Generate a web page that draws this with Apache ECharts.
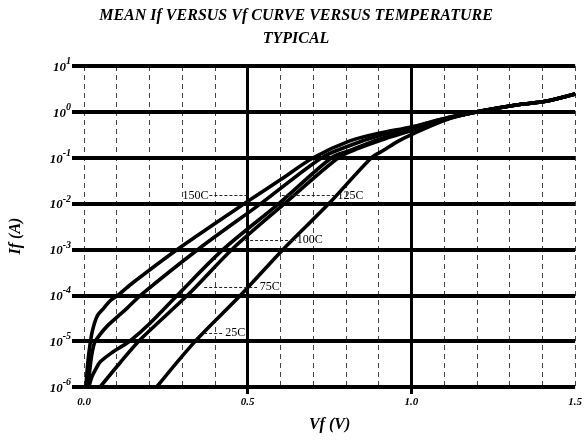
<!DOCTYPE html>
<html>
<head>
<meta charset="utf-8">
<script src="https://cdn.jsdelivr.net/npm/echarts@6/dist/echarts.min.js"></script>
<style>html,body{margin:0;padding:0;background:#fff}#c{width:585px;height:440px}</style>
</head>
<body>
<div id="c"></div>
<script>
// ---- data (Vf in volts, If in amperes) ----
const curveNames = ['150C', '125C', '100C', '75C', '25C'];

const vf150 = [0.006, 0.010, 0.016, 0.025, 0.040, 0.060, 0.080, 0.103, 0.150, 0.285, 0.490, 0.600, 0.700, 0.810, 0.900, 1.000, 1.100, 1.200, 1.320, 1.410, 1.500];
const if150 = [1.0e-6, 2.5e-6, 6.3e-6, 1.6e-5, 3.5e-5, 5.2e-5, 7.6e-5, 1.0e-4, 1.9e-4, 1.0e-3, 1.0e-2, 3.3e-2, 0.10, 0.23, 0.34, 0.47, 0.72, 1.0, 1.41, 1.7, 2.45];

const vf125 = [0.012, 0.018, 0.024, 0.033, 0.049, 0.070, 0.100, 0.131, 0.176, 0.352, 0.544, 0.726, 0.808, 0.900, 1.000, 1.100, 1.200, 1.320, 1.410, 1.500];
const if125 = [1.0e-6, 2.5e-6, 5.2e-6, 9.5e-6, 1.4e-5, 2.1e-5, 3.3e-5, 5.2e-5, 1.05e-4, 1.05e-3, 1.05e-2, 0.10, 0.18, 0.30, 0.45, 0.71, 1.0, 1.41, 1.7, 2.45];

const vf100 = [0.015, 0.024, 0.036, 0.049, 0.088, 0.118, 0.140, 0.200, 0.285, 0.425, 0.595, 0.756, 0.808, 0.900, 1.000, 1.100, 1.200, 1.320, 1.410, 1.500];
const if100 = [1.0e-6, 1.66e-6, 2.45e-6, 3.5e-6, 5.8e-6, 7.9e-6, 1.0e-5, 2.4e-5, 1.0e-4, 1.0e-3, 1.0e-2, 0.10, 0.14, 0.25, 0.41, 0.68, 1.0, 1.41, 1.7, 2.45];

const vf75 = [0.049, 0.109, 0.170, 0.319, 0.455, 0.616, 0.777, 0.838, 0.920, 1.000, 1.100, 1.200, 1.320, 1.410, 1.500];
const if75 = [1.0e-6, 3.3e-6, 1.05e-5, 1.05e-4, 1.05e-3, 1.05e-2, 0.10, 0.16, 0.26, 0.39, 0.68, 1.0, 1.41, 1.7, 2.45];

const vf25 = [0.222, 0.340, 0.478, 0.608, 0.748, 0.878, 0.915, 0.960, 1.000, 1.100, 1.200, 1.320, 1.410, 1.500];
const if25 = [1.0e-6, 1.0e-5, 1.0e-4, 1.0e-3, 1.0e-2, 0.10, 0.145, 0.23, 0.32, 0.65, 1.0, 1.41, 1.7, 2.45];

// curve annotations (label text, current level, leader start/end Vf, label side)
const annotNames = ['150C', '125C', '100C', '75C', '25C'];
const annotIf = [0.015, 0.015, 0.0016, 0.00015, 0.000015];
const annotVfFrom = [0.383, 0.604, 0.492, 0.367, 0.367];
const annotVfTo = [0.501, 0.771, 0.647, 0.534, 0.428];
const annotSide = ['start', 'end', 'end', 'end', 'end'];

// axis ticks
const xTickValues = [0.0, 0.5, 1.0, 1.5];
const xMajorTickMarks = [0.5, 1.0];
const yTickExponents = [-6, -5, -4, -3, -2, -1, 0, 1];

const titleText = 'MEAN If VERSUS Vf CURVE VERSUS TEMPERATURE\nTYPICAL';
const xName = 'Vf (V)';
const yName = 'If (A)';

// ---- chart ----
const FONT = '"Liberation Serif", "Times New Roman", serif';
const vfs = [vf150, vf125, vf100, vf75, vf25];
const ifs = [if150, if125, if100, if75, if25];

const chart = echarts.init(document.getElementById('c'), null, {renderer: 'canvas'});

const markData = annotNames.map((n, k) => [
  {
    coord: [annotVfFrom[k], annotIf[k]],
    label: {
      show: true, position: annotSide[k], formatter: n, distance: 1,
      color: '#000', fontFamily: FONT, fontSize: 12
    },
    lineStyle: {color: '#222', width: 1, type: [3, 2]}
  },
  {coord: [annotVfTo[k], annotIf[k]]}
]);

const series = curveNames.map((name, k) => {
  const s = {
    name: name,
    type: 'line',
    xAxisIndex: 0,
    yAxisIndex: 0,
    data: vfs[k].map((v, j) => [v, ifs[k][j]]),
    symbol: 'none',
    smooth: 0.3,
    lineStyle: {color: '#000', width: 3.6},
    emphasis: {disabled: true},
    silent: true,
    z: 3
  };
  if (k === 0) {
    s.markLine = {
      silent: true, symbol: ['none', 'none'], animation: false,
      data: markData
    };
  }
  return s;
});

const option = {
  animation: false,
  backgroundColor: '#fff',
  title: {
    text: titleText,
    left: 296, top: 4, padding: 0,
    textAlign: 'center',
    textStyle: {
      fontFamily: FONT, fontSize: 16, fontWeight: 'bold', fontStyle: 'italic',
      color: '#000', lineHeight: 23
    }
  },
  grid: {left: 84, right: 7, top: 66, bottom: 53, containLabel: false},
  xAxis: [
    {
      type: 'value', min: 0, max: 1.5, interval: 0.5,
      position: 'bottom',
      name: xName, nameLocation: 'middle', nameGap: 30,
      nameTextStyle: {fontFamily: FONT, fontSize: 16, fontWeight: 'bold', fontStyle: 'italic', color: '#000'},
      axisLine: {show: false},
      axisTick: {show: true, customValues: xMajorTickMarks, length: 7, lineStyle: {color: '#000', width: 3}},
      axisLabel: {
        customValues: xTickValues,
        formatter: v => v.toFixed(1), margin: 10,
        fontFamily: FONT, fontSize: 11, fontWeight: 'bold', fontStyle: 'italic', color: '#000'
      },
      splitLine: {show: true, showMinLine: true, showMaxLine: true, lineStyle: {color: '#000', width: 3}},
      z: 2
    },
    {
      type: 'value', min: 0, max: 1.5, interval: 0.1,
      position: 'bottom',
      axisLine: {show: false}, axisTick: {show: false}, axisLabel: {show: false},
      splitLine: {show: true, lineStyle: {color: '#444', width: 1, type: [5, 4]}},
      z: 1
    }
  ],
  yAxis: [
    {
      type: 'log', logBase: 10, min: 1e-6, max: 10,
      axisLine: {show: false},
      axisTick: {show: true, length: 12, lineStyle: {color: '#000', width: 4}},
      axisLabel: {
        margin: 13,
        formatter: v => '{b|10}{s|' + Math.round(Math.log10(v)) + '}',
        rich: {
          b: {fontFamily: FONT, fontSize: 13, fontWeight: 'bold', fontStyle: 'italic', color: '#000', padding: [3, 0, 0, 0]},
          s: {fontFamily: FONT, fontSize: 10, fontWeight: 'bold', fontStyle: 'italic', color: '#000', padding: [0, 0, 9, 0]}
        }
      },
      splitLine: {show: true, showMinLine: true, showMaxLine: true, lineStyle: {color: '#000', width: 4}},
      minorTick: {show: false},
      z: 2
    }
  ],
  graphic: [
    {
      type: 'text', x: 16, y: 236, rotation: Math.PI / 2,
      style: {
        text: yName, fill: '#000',
        font: 'italic bold 16px "Liberation Serif", serif',
        align: 'center', verticalAlign: 'middle'
      }
    }
  ],
  series: series
};

chart.setOption(option);
</script>
</body>
</html>
